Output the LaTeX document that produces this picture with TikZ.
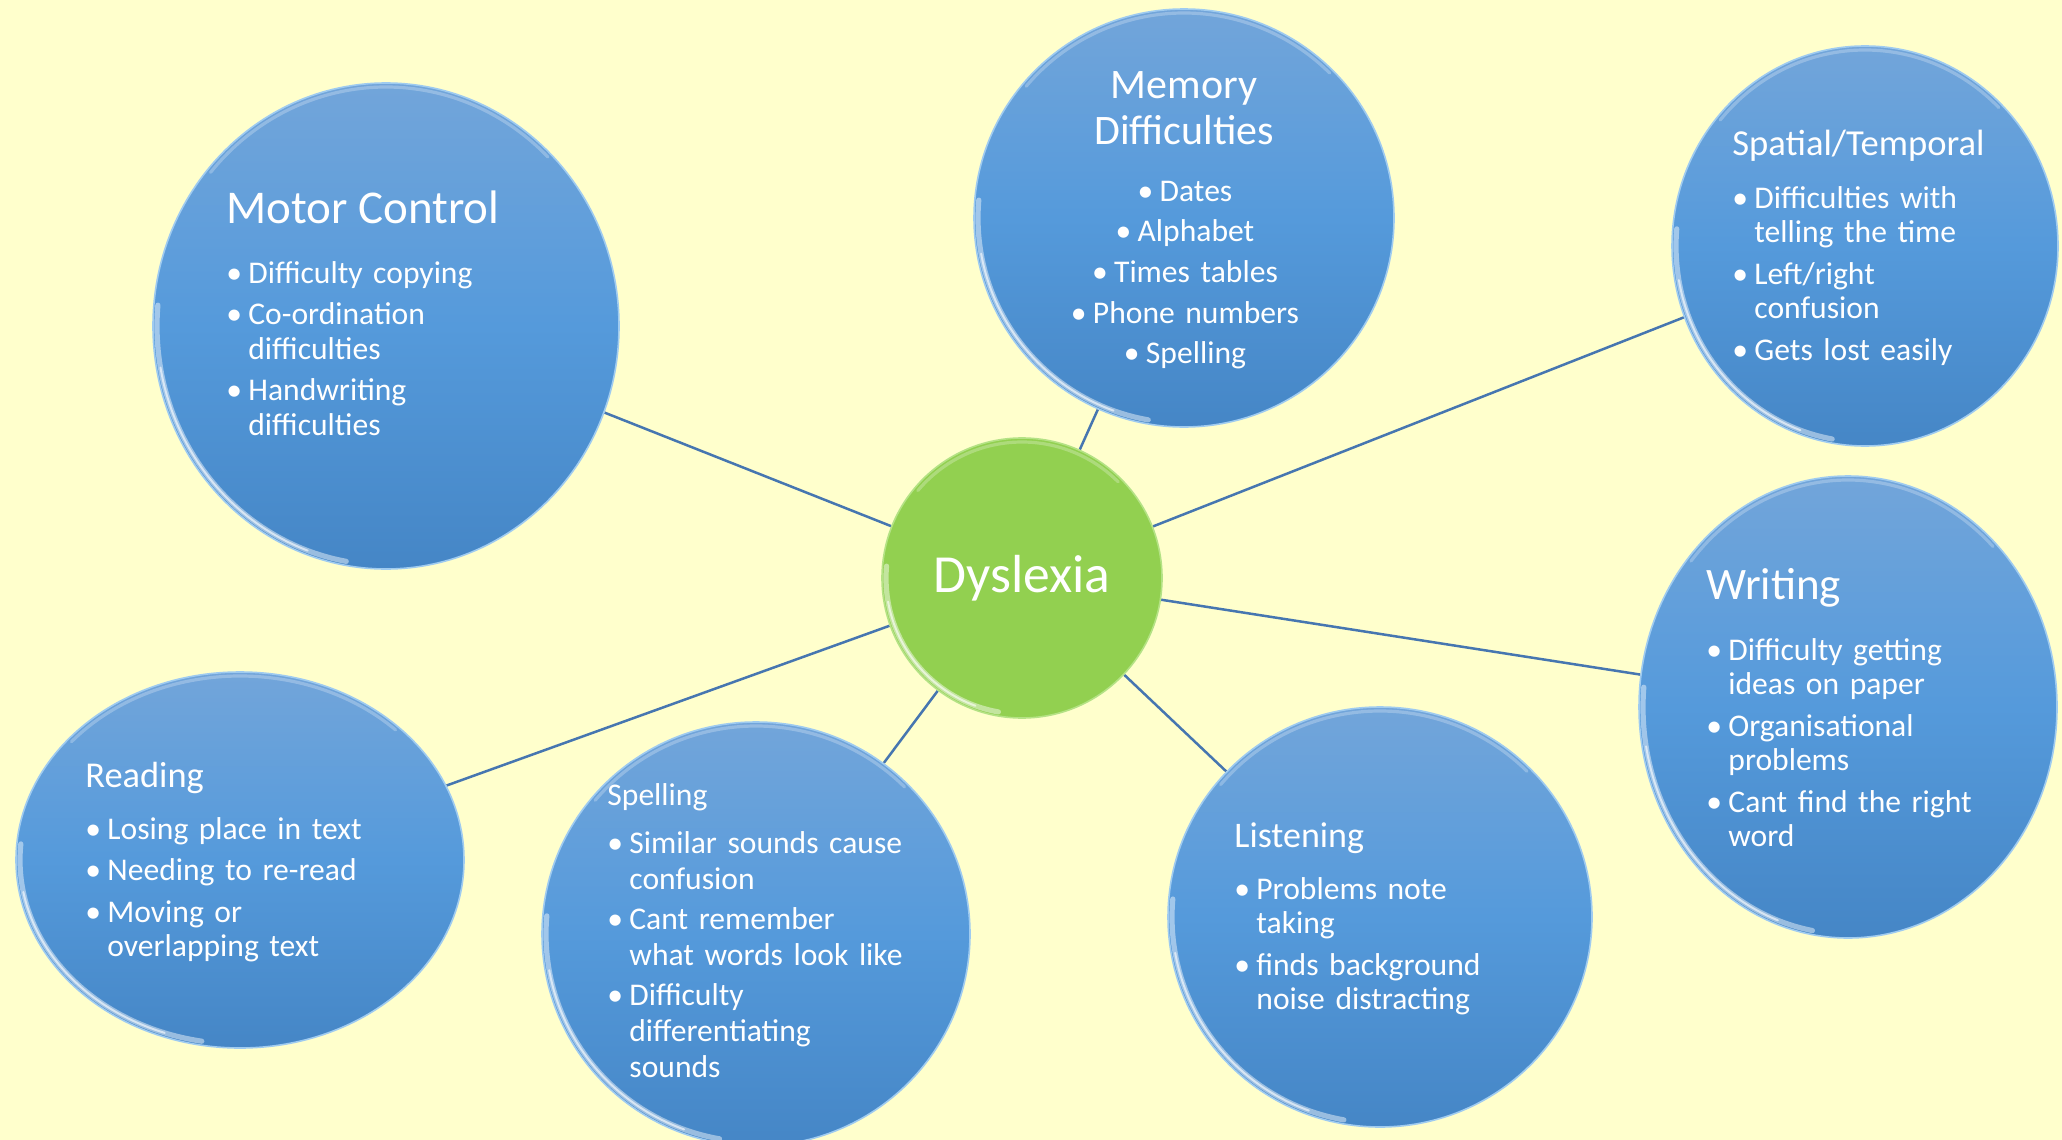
\documentclass[tikz,border=0pt]{standalone}
\usepackage{fontspec}
\setmainfont{Carlito}
\usetikzlibrary{shapes.geometric}
\pgfdeclarelayer{bg}
\pgfsetlayers{bg,main}
\definecolor{bgyellow}{HTML}{FFFFCC}
\definecolor{ctop}{HTML}{72A5DA}
\definecolor{cmid}{HTML}{559ADB}
\definecolor{cbot}{HTML}{4586C6}
\definecolor{crim}{HTML}{9FCBF0}
\definecolor{gfill}{HTML}{92D050}
\definecolor{grim}{HTML}{B4E285}
\definecolor{link}{HTML}{4676B0}
\newcommand\bl[1]{\hangindent=11pt\hangafter=1\noindent\makebox[11pt][l]{\textbullet}#1\par}
\newcommand\cbl[1]{\makebox[11pt][l]{\textbullet}#1\par}
\newcommand\gloss[3]{%
  \draw[white, opacity=0.45, line width=2.6pt, line cap=round] (#1.center) ++(100:#2 and #3) arc[start angle=100, end angle=185, x radius=#2, y radius=#3];
  \draw[white, opacity=0.6, line width=1pt, line cap=round] (#1.center) ++(110:#2 and #3) arc[start angle=110, end angle=170, x radius=#2, y radius=#3];
  \draw[white, opacity=0.25, line width=1.6pt, line cap=round] (#1.center) ++(220:#2 and #3) arc[start angle=220, end angle=315, x radius=#2, y radius=#3];}
\begin{document}
\begin{tikzpicture}[x=0.5pt,y=-0.5pt,
  bubble/.style={ellipse, inner sep=0pt, top color=ctop, bottom color=cbot, middle color=cmid, draw=crim, line width=0.8pt},
  hub/.style={ellipse, inner sep=0pt, fill=gfill, draw=grim, line width=0.8pt, text=white},
  head/.style={anchor=base west, inner sep=0pt, text=white},
  bul/.style={anchor=base west, inner sep=0pt, text=white, text width=220pt, align=left,
    font=\fontsize{15.8}{17.25}\selectfont\setlength\parskip{3.5pt}},
  link/.style={draw=link, line width=1.25pt}]
\useasboundingbox (0,0) rectangle (2062,1140);
% bubbles
\node[bubble, minimum width=233pt, minimum height=243pt] (motor) at (386,326) {};
\node[bubble, minimum width=210pt, minimum height=209pt] (memory) at (1184,218) {};
\node[bubble, minimum width=193pt, minimum height=200pt] (spatial) at (1865,246) {};
\node[bubble, minimum width=224pt, minimum height=188pt] (reading) at (240,860) {};
\node[bubble, minimum width=214pt, minimum height=212pt] (spelling) at (756,934) {};
\node[bubble, minimum width=212pt, minimum height=210pt] (listening) at (1380,917) {};
\node[bubble, minimum width=209pt, minimum height=231pt] (writing) at (1848,707) {};
\node[hub, minimum width=140pt, minimum height=140pt, font=\fontsize{26.8}{30}\selectfont] (dys) at (1022,578) {Dyslexia};
% glossy rims
\gloss{motor}{229}{239}
\gloss{memory}{206}{205}
\gloss{spatial}{189}{196}
\gloss{reading}{220}{184}
\gloss{spelling}{210}{208}
\gloss{listening}{208}{206}
\gloss{writing}{205}{227}
\gloss{dys}{136}{136}
% connectors
\begin{pgfonlayer}{bg}
\fill[bgyellow] (0,0) rectangle (2062,1140);
\draw[link] (dys) -- (motor);
\draw[link] (dys) -- (memory);
\draw[link] (dys) -- (spatial);
\draw[link] (dys) -- (writing);
\draw[link] (dys) -- (listening);
\draw[link] (dys) -- (spelling);
\draw[link] (dys) -- (reading);
\end{pgfonlayer}
% Motor Control
\node[head, font=\fontsize{23.5}{28}\selectfont] (motorh) at (226,223) {Motor Control};
\node[bul] (motorb) at (226,283) {\bl{Difficulty copying}\bl{Co-ordination\newline difficulties}\bl{Handwriting\newline difficulties}};
% Memory
\node[anchor=base, inner sep=0pt, text=white, text width=220pt, align=center, font=\fontsize{21}{23}\selectfont] (memoryh) at (1184,98) {Memory\par Difficulties};
\node[anchor=base, inner sep=0pt, text=white, text width=220pt, align=center, font=\fontsize{15.8}{20.35}\selectfont\setlength\parskip{0pt}] (memoryb) at (1185,201) {\cbl{Dates}\cbl{Alphabet}\cbl{Times tables}\cbl{Phone numbers}\cbl{Spelling}};
% Spatial
\node[head, font=\fontsize{18.3}{22}\selectfont] (spatialh) at (1732,155) {Spatial/Temporal};
\node[bul] (spatialb) at (1732,208) {\bl{Difficulties with\newline telling the time}\bl{Left/right\newline confusion}\bl{Gets lost easily}};
% Reading
\node[head, font=\fontsize{18.2}{22}\selectfont] (readingh) at (85,787) {Reading};
\node[bul] (readingb) at (85,839) {\bl{Losing place in text}\bl{Needing to re-read}\bl{Moving or\newline overlapping text}};
% Spelling
\node[head, font=\fontsize{15.8}{19}\selectfont] (spellingh) at (607,805) {Spelling};
\node[bul, font=\fontsize{15.8}{18}\selectfont\setlength\parskip{2pt}] (spellingb) at (607,853) {\bl{Similar sounds cause\newline confusion}\bl{Cant remember\newline what words look like}\bl{Difficulty\newline differentiating\newline sounds}};
% Listening
\node[head, font=\fontsize{18}{22}\selectfont] (listeningh) at (1234,847) {Listening};
\node[bul] (listeningb) at (1234,899) {\bl{Problems note\newline taking}\bl{finds background\newline noise distracting}};
% Writing
\node[head, font=\fontsize{22.5}{27}\selectfont] (writingh) at (1706,599) {Writing};
\node[bul] (writingb) at (1706,660) {\bl{Difficulty getting\newline ideas on paper}\bl{Organisational\newline problems}\bl{Cant find the right\newline word}};
\end{tikzpicture}
\end{document}
